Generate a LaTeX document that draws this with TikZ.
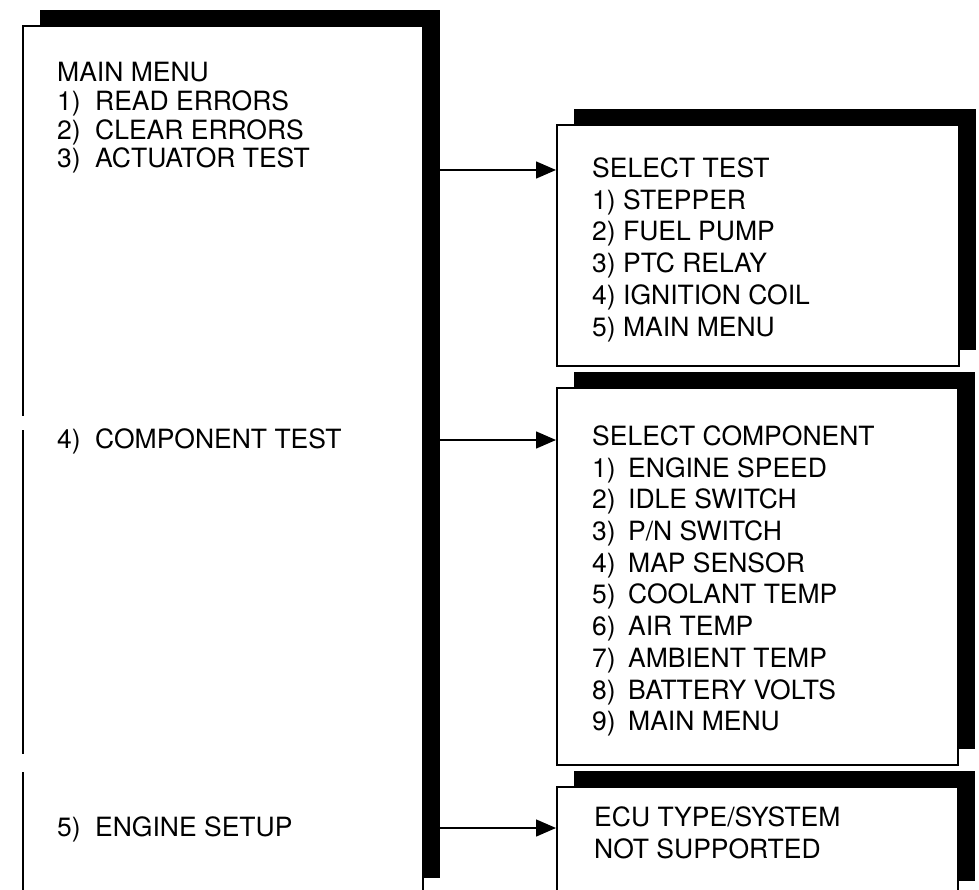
\documentclass[tikz,border=0pt]{standalone}
\usepackage{fontspec}
\setmainfont{TeX Gyre Heros}
\usetikzlibrary{positioning,arrows.meta,shadows}

\newcommand{\numitem}[3]{\makebox[#1][l]{#2}#3}

\begin{document}
\begin{tikzpicture}[x=1pt, y=-1pt, every node/.style={font=\fontsize{26.5}{31}\selectfont}]
    \tikzset{panel/.style={rectangle, draw, line width=1.8pt, fill=white, anchor=north west, inner sep=0pt, drop shadow={shadow xshift=17pt, shadow yshift=16pt, opacity=1, fill=black}}}
    \tikzset{txt/.style={anchor=base west, inner sep=0pt}}
    \tikzset{line/.style={draw, line width=1.4pt, -{Triangle[length=20pt, width=17pt]}}}

    \useasboundingbox (0,0) rectangle (979,890);
    \clip (0,0) rectangle (979,890);

    % boxes
    \node [panel, minimum width=400pt, minimum height=868pt] (menu) at (22,25) {};
    \node [panel, minimum width=402pt, minimum height=241pt] (sel) at (556,124) {};
    \node [panel, minimum width=401pt, minimum height=377pt] (comp) at (556,387) {};
    \node [panel, minimum width=401pt, minimum height=110pt] (ecu) at (556,786) {};

    % breaks in the left edge
    \draw [white, line width=3pt] (22,416) -- (22,430);
    \draw [white, line width=3pt] (22,754) -- (22,772);

    % main menu
    \node [txt] (m0) at (57,82) {MAIN MENU};
    \node [txt] (m1) at (57,111) {\numitem{38pt}{1)}{READ ERRORS}};
    \node [txt] (m2) at (57,140) {\numitem{38pt}{2)}{CLEAR ERRORS}};
    \node [txt] (m3) at (57,168) {\numitem{38pt}{3)}{ACTUATOR TEST}};
    \node [txt] (m4) at (57,448) {\numitem{38pt}{4)}{COMPONENT TEST}};
    \node [txt] (m5) at (57,836) {\numitem{38pt}{5)}{ENGINE SETUP}};

    % select test
    \node [txt] (s0) at (592,178) {SELECT TEST};
    \node [txt] (s1) at (592,210) {1) STEPPER};
    \node [txt] (s2) at (592,241) {2) FUEL PUMP};
    \node [txt] (s3) at (592,273) {3) PTC RELAY};
    \node [txt] (s4) at (592,305) {4) IGNITION COIL};
    \node [txt] (s5) at (592,336) {5) MAIN MENU};

    % select component
    \node [txt] (c0) at (592,445) {SELECT COMPONENT};
    \node [txt] (c1) at (592,477) {\numitem{36pt}{1)}{ENGINE SPEED}};
    \node [txt] (c2) at (592,508) {\numitem{36pt}{2)}{IDLE SWITCH}};
    \node [txt] (c3) at (592,540) {\numitem{36pt}{3)}{P/N SWITCH}};
    \node [txt] (c4) at (592,572) {\numitem{36pt}{4)}{MAP SENSOR}};
    \node [txt] (c5) at (592,603) {\numitem{36pt}{5)}{COOLANT TEMP}};
    \node [txt] (c6) at (592,635) {\numitem{36pt}{6)}{AIR TEMP}};
    \node [txt] (c7) at (592,667) {\numitem{36pt}{7)}{AMBIENT TEMP}};
    \node [txt] (c8) at (592,699) {\numitem{36pt}{8)}{BATTERY VOLTS}};
    \node [txt] (c9) at (592,730) {\numitem{36pt}{9)}{MAIN MENU}};

    % not supported
    \node [txt] (e0) at (594,826) {ECU TYPE/SYSTEM};
    \node [txt] (e1) at (594,858) {NOT SUPPORTED};

    \coordinate (p1) at (422,170);
    \coordinate (p2) at (422,440);
    \coordinate (p3) at (422,828);
    \path [line] (p1) -- (p1 -| sel.west);
    \path [line] (p2) -- (p2 -| comp.west);
    \path [line] (p3) -- (p3 -| ecu.west);
\end{tikzpicture}
\end{document}
